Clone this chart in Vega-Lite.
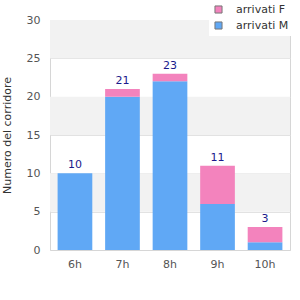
{
  "$schema": "https://vega.github.io/schema/vega-lite/v6.json",
  "width": 240,
  "height": 230,
  "autosize": {"type": "none"},
  "padding": {"left": 50, "top": 20, "right": 10, "bottom": 50},
  "background": "white",
  "datasets": {
    "arrivi": [
      {"ora": "6h", "sesso": "arrivati M", "n": 10},
      {"ora": "6h", "sesso": "arrivati F", "n": 0},
      {"ora": "7h", "sesso": "arrivati M", "n": 20},
      {"ora": "7h", "sesso": "arrivati F", "n": 1},
      {"ora": "8h", "sesso": "arrivati M", "n": 22},
      {"ora": "8h", "sesso": "arrivati F", "n": 1},
      {"ora": "9h", "sesso": "arrivati M", "n": 6},
      {"ora": "9h", "sesso": "arrivati F", "n": 5},
      {"ora": "10h", "sesso": "arrivati M", "n": 1},
      {"ora": "10h", "sesso": "arrivati F", "n": 2}
    ],
    "fasce": [
      {"lo": 25, "hi": 30},
      {"lo": 15, "hi": 20},
      {"lo": 5, "hi": 10}
    ]
  },
  "config": {
    "view": {"stroke": "#d6d6d6", "strokeWidth": 1},
    "font": "DejaVu Sans",
    "axis": {"labelFont": "DejaVu Sans", "titleFont": "DejaVu Sans", "labelOverlap": false},
    "axisQuantitative": {"labelOverlap": false},
    "axisY": {"labelOverlap": false, "ticks": false, "domain": false, "gridColor": "#e2e2e2", "labelColor": "#555555", "labelFontSize": 11, "labelPadding": 10, "titleColor": "#333333", "titleFontSize": 11, "titleFontWeight": "normal", "titlePadding": 14}
  },
  "layer": [
    {
      "data": {"name": "fasce"},
      "mark": {"type": "rect", "color": "#f2f2f2"},
      "encoding": {
        "y": {"field": "lo", "type": "quantitative", "scale": {"domain": [0, 30]},
          "axis": {"title": "Numero del corridore", "values": [0, 5, 10, 15, 20, 25, 30], "labelOverlap": false}},
        "y2": {"field": "hi"}
      }
    },
    {
      "data": {"name": "arrivi"},
      "mark": {"type": "bar"},
      "encoding": {
        "x": {
          "field": "ora", "type": "nominal", "sort": ["6h", "7h", "8h", "9h", "10h"],
          "scale": {"paddingInner": 0.27, "paddingOuter": 0.16},
          "axis": {"title": null, "labelAngle": 0, "ticks": false, "domainColor": "#d6d6d6", "labelColor": "#555555", "labelFontSize": 11, "labelPadding": 8}
        },
        "y": {
          "field": "n", "type": "quantitative", "stack": "zero",
          "scale": {"domain": [0, 30]},
          "axis": {"title": "Numero del corridore", "values": [0, 5, 10, 15, 20, 25, 30], "labelOverlap": false}
        },
        "color": {
          "field": "sesso", "type": "nominal",
          "scale": {"domain": ["arrivati F", "arrivati M"], "range": ["#f383bd", "#60a8f5"]},
          "legend": {"title": null, "orient": "none", "legendX": 159, "legendY": -20, "fillColor": "white", "padding": 4, "symbolType": "square", "symbolSize": 50, "symbolStrokeColor": "#777777", "symbolStrokeWidth": 1, "labelFontSize": 11, "labelColor": "#333333", "rowPadding": 3, "labelOffset": 12}
        },
        "order": {"field": "sesso", "sort": "descending"}
      }
    },
    {
      "data": {"name": "arrivi"},
      "mark": {"type": "text", "dy": -8, "color": "#1a1a8c", "fontSize": 11},
      "encoding": {
        "x": {"field": "ora", "type": "nominal", "sort": ["6h", "7h", "8h", "9h", "10h"]},
        "y": {"aggregate": "sum", "field": "n", "type": "quantitative",
          "axis": {"title": "Numero del corridore", "values": [0, 5, 10, 15, 20, 25, 30], "labelOverlap": false}},
        "text": {"aggregate": "sum", "field": "n", "type": "quantitative"}
      }
    }
  ]
}
